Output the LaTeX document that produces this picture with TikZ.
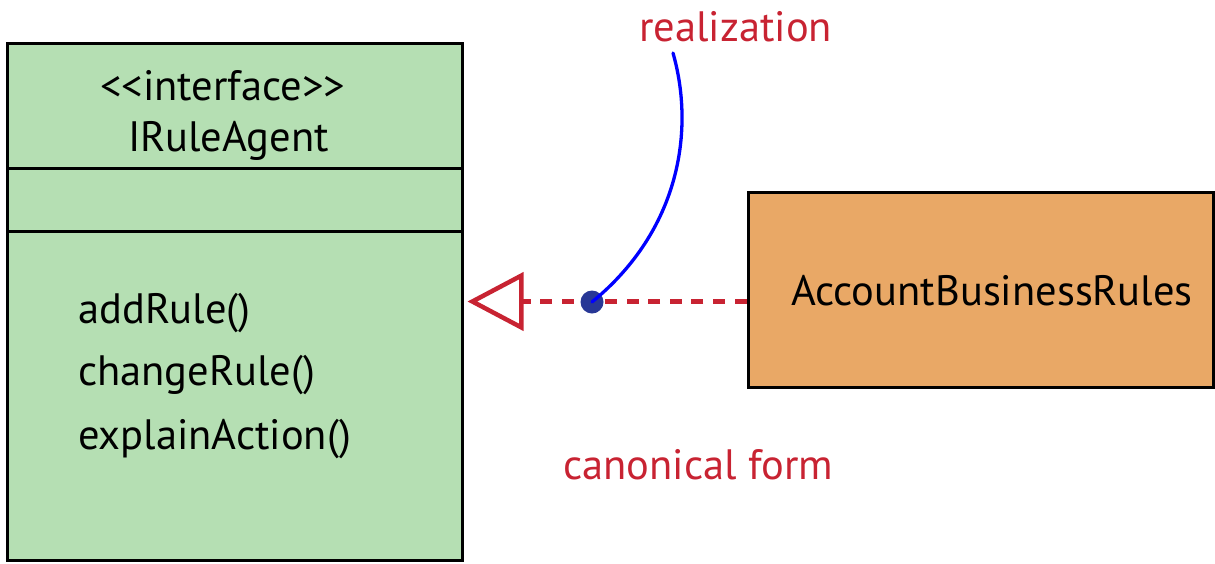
\documentclass[tikz,border=0pt]{standalone}
\usepackage{fontspec}
\setmainfont{PT Sans}
\usetikzlibrary{arrows.meta}
\definecolor{umlgreen}{RGB}{181,223,179}
\definecolor{umlorange}{RGB}{233,168,102}
\definecolor{umlred}{RGB}{200,35,50}
\definecolor{dotblue}{RGB}{40,55,150}
\begin{document}
\begin{tikzpicture}[x=1pt,y=-1pt,
  box/.style={draw=black,line width=3pt,rectangle,inner sep=0pt},
  txt/.style={font=\fontsize{42.5}{44}\selectfont,inner sep=0pt,anchor=base west},
  redtxt/.style={txt,text=umlred},
  dashline/.style={draw=umlred,line width=5pt,dash pattern=on 12pt off 9.6pt},
]
\useasboundingbox (0,0) rectangle (1215,563);
% interface class
\node[box,fill=umlgreen,minimum width=455pt,minimum height=517pt] (iface) at (234.5,301.5) {};
\coordinate (s1) at (7,168);
\coordinate (s2) at (7,231);
\draw[line width=3pt] (s1) -- (s1 -| iface.east);
\draw[line width=3pt] (s2) -- (s2 -| iface.east);
\node[txt] (stereo) at (100,100) {{<}{<}interface{>}{>}};
\node[txt] (iname) at (128,151) {IRuleAgent};
\node[txt] (m1) at (78,323) {addRule()};
\node[txt] (m2) at (78,385) {changeRule()};
\node[txt] (m3) at (78,449) {explainAction()};
% implementing class
\node[box,fill=umlorange,minimum width=465pt,minimum height=195pt] (acct) at (980.5,289.5) {};
\node[txt] (aname) at (791,305) {AccountBusinessRules};
% realization connector
\coordinate (lineend) at (acct.west |- iface.east);
\draw[dashline,-{Triangle[open,length=56pt,width=58pt,line width=4.5pt,sep=0pt]},shorten >=4pt] (lineend) -- (iface.east);
% annotation
\node[circle,fill=dotblue,minimum size=23pt,inner sep=0pt] (dot) at (592,302) {};
\node[redtxt] (real) at (639,41) {realization};
\coordinate (cstart) at (673,53);
\draw[blue,line width=3.3pt,line cap=round] (cstart) .. controls (695,130) and (680,230) .. (dot.center);
\node[redtxt] (canon) at (563,479) {canonical form};
\end{tikzpicture}
\end{document}
